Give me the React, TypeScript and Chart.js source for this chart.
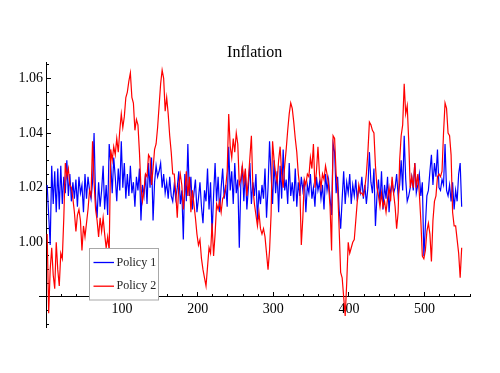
import React, { useEffect, useRef } from "react";
import { Chart, registerables } from "chart.js";

Chart.register(...registerables);

const TITLE = "Inflation";
const SERIES_LABELS = ["Policy 1", "Policy 2"];
const SERIES_COLORS = ["#0000ff", "#ff0000"];

// periods start at 1, one value every 2 periods
const PERIOD_START = 1;
const PERIOD_STEP = 2;

const policy1: number[] = [
  1.021, 1.010, 0.999, 1.028, 1.014, 1.026, 1.011, 1.027, 1.012, 1.028,
  1.014, 1.024, 1.018, 1.030, 1.017, 1.025, 1.015, 1.022, 1.016, 1.023,
  1.013, 1.024, 1.018, 1.021, 1.011, 1.025, 1.016, 1.024, 1.019, 1.016,
  1.022, 1.040, 1.016, 1.009, 1.022, 1.013, 1.019, 1.028, 1.012, 1.021,
  1.010, 1.036, 1.029, 1.018, 1.031, 1.024, 1.015, 1.027, 1.019, 1.037,
  1.020, 1.029, 1.016, 1.025, 1.017, 1.028, 1.018, 1.022, 1.013, 1.024,
  1.019, 1.027, 1.008, 1.021, 1.017, 1.025, 1.014, 1.029, 1.020, 1.031,
  1.008, 1.022, 1.028, 1.024, 1.026, 1.029, 1.020, 1.025, 1.018, 1.022,
  1.016, 1.024, 1.017, 1.015, 1.021, 1.016, 1.020, 1.026, 1.014, 1.019,
  1.001, 1.025, 1.015, 1.036, 1.017, 1.024, 1.012, 1.018, 1.023, 1.011,
  1.016, 1.022, 1.013, 1.007, 1.019, 1.015, 1.027, 1.012, 1.022, 1.003,
  1.017, 1.029, 1.015, 1.024, 1.011, 1.020, 1.027, 1.016, 1.021, 1.013,
  1.035, 1.019, 1.026, 1.014, 1.029, 1.018, 1.023, 0.998, 1.021, 1.028,
  1.015, 1.026, 1.012, 1.020, 1.029, 1.014, 1.022, 1.017, 1.025, 1.008,
  1.019, 1.014, 1.021, 1.016, 1.027, 1.009, 1.020, 1.037, 1.025, 1.014,
  1.030, 1.018, 1.026, 1.011, 1.028, 1.016, 1.034, 1.019, 1.023, 1.014,
  1.029, 1.017, 1.022, 1.015, 1.027, 1.013, 1.022, 1.017, 1.024, 1.019,
  1.023, 1.011, 1.021, 1.018, 1.025, 1.016, 1.020, 1.013, 1.024, 1.019,
  1.022, 1.016, 1.021, 1.012, 1.025, 1.019, 1.023, 1.016, 1.010, 1.036,
  1.033, 1.018, 1.024, 1.012, 1.005, 1.016, 1.026, 1.014, 1.022, 1.018,
  1.025, 1.014, 1.021, 1.017, 1.023, 1.015, 1.020, 1.018, 1.024, 1.016,
  1.021, 1.014, 1.020, 1.033, 1.022, 1.018, 1.027, 1.006, 1.017, 1.023,
  1.014, 1.026, 1.012, 1.021, 1.016, 1.024, 1.011, 1.019, 1.022, 1.018,
  1.020, 1.025, 1.017, 1.021, 1.030, 1.019, 1.039, 1.023, 1.015, 1.017,
  1.020, 1.024, 1.019, 1.029, 1.018, 1.021, 1.025, 1.017, 1.022, 0.995,
  1.006, 1.017, 1.019, 1.026, 1.032, 1.021, 1.029, 1.024, 1.034, 1.020,
  1.019, 1.023, 1.021, 1.036, 1.019, 1.017, 1.021, 1.015, 1.022, 1.012,
  1.019, 1.015, 1.025, 1.029, 1.013,
];

const policy2: number[] = [
  1.003, 0.974, 0.990, 0.998, 0.988, 0.983, 1.000, 0.990, 0.984, 0.996,
  0.994, 1.009, 1.029, 1.024, 1.027, 1.021, 1.020, 1.016, 1.011, 1.004,
  1.010, 1.012, 1.008, 0.997, 1.006, 1.002, 1.007, 1.012, 1.019, 1.017,
  1.037, 1.022, 1.012, 1.008, 1.002, 1.009, 1.004, 1.009, 1.003, 0.998,
  1.002, 0.997, 1.034, 1.030, 1.035, 1.032, 1.038, 1.033, 1.041, 1.047,
  1.042, 1.046, 1.053, 1.055, 1.059, 1.062, 1.053, 1.051, 1.041, 1.045,
  1.043, 1.033, 1.020, 1.015, 1.019, 1.025, 1.024, 1.032, 1.031, 1.021,
  1.027, 1.034, 1.036, 1.042, 1.050, 1.058, 1.063, 1.060, 1.048, 1.053,
  1.047, 1.039, 1.033, 1.025, 1.025, 1.018, 1.009, 1.021, 1.025, 1.021,
  1.012, 1.019, 1.026, 1.017, 1.024, 1.011, 1.019, 1.014, 1.009, 1.003,
  0.999, 1.001, 0.994, 0.990, 0.987, 0.984, 0.991, 0.998, 0.996, 1.007,
  0.995, 1.003, 1.014, 1.012, 1.015, 1.011, 1.016, 1.017, 1.020, 1.026,
  1.047, 1.035, 1.031, 1.038, 1.033, 1.040, 1.036, 1.021, 1.023, 1.028,
  1.022, 1.027, 1.017, 1.023, 1.031, 1.039, 1.020, 1.014, 1.010, 1.006,
  1.011, 1.005, 1.003, 1.005, 1.002, 0.996, 0.990, 0.997, 1.010, 1.037,
  1.030, 1.025, 1.022, 1.030, 1.035, 1.025, 1.020, 1.028, 1.034, 1.041,
  1.047, 1.051, 1.049, 1.044, 1.038, 1.033, 1.025, 1.020, 0.999, 1.009,
  1.023, 1.021, 1.025, 1.024, 1.031, 1.027, 1.036, 1.020, 1.026, 1.035,
  1.025, 1.020, 1.025, 1.023, 1.028, 1.025, 1.021, 1.013, 0.997, 1.039,
  1.038, 1.025, 1.020, 1.005, 0.989, 0.987, 0.980, 0.973, 0.985, 1.000,
  0.996, 0.998, 1.000, 1.001, 1.008, 1.015, 1.021, 1.018, 1.018, 1.017,
  1.020, 1.025, 1.033, 1.044, 1.043, 1.041, 1.040, 1.028, 1.020, 1.017,
  1.013, 1.018, 1.013, 1.015, 1.011, 1.016, 1.020, 1.015, 1.024, 1.018,
  1.013, 1.005, 1.011, 1.030, 1.039, 1.043, 1.058, 1.047, 1.050, 1.037,
  1.020, 1.024, 1.020, 1.029, 1.020, 1.025, 1.018, 1.008, 0.995, 0.994,
  0.997, 1.004, 1.007, 1.003, 0.993, 1.008, 1.015, 1.017, 1.024, 1.025,
  1.024, 1.026, 1.040, 1.051, 1.049, 1.040, 1.039, 1.032, 1.011, 1.006,
  1.006, 1.001, 0.996, 0.987, 0.998,
];

// axis ranges and ticks
const X_MIN = -9.4;
const X_MAX = 560;
const Y_MIN = 0.969;
const Y_MAX = 1.066;
const AXIS_CROSS_Y = 0.98;
const AXIS_CROSS_X = 0;
const X_MAJOR_STEP = 100;
const X_MINOR_STEP = 20;
const Y_MAJOR_STEP = 0.02;
const Y_MINOR_STEP = 0.005;

const FONT = "'Liberation Serif', 'Times New Roman', serif";

const legendPlugin = {
  id: "boxLegend",
  afterDatasetsDraw(chart: any) {
    const { ctx } = chart;
    const x0 = 89.5, y0 = 248.5, w = 69, h = 51.5;
    ctx.save();
    ctx.fillStyle = "#ffffff";
    ctx.fillRect(x0, y0, w, h);
    ctx.strokeStyle = "#a8a8a8";
    ctx.lineWidth = 1;
    ctx.strokeRect(x0, y0, w, h);
    ctx.font = `12px ${FONT}`;
    ctx.textBaseline = "middle";
    ctx.textAlign = "left";
    chart.data.datasets.forEach((ds: any, i: number) => {
      const yy = 262.5 + i * 23.7;
      ctx.strokeStyle = ds.borderColor;
      ctx.lineWidth = 1.3;
      ctx.beginPath();
      ctx.moveTo(93.5, yy);
      ctx.lineTo(114, yy);
      ctx.stroke();
      ctx.fillStyle = "#222";
      ctx.fillText(ds.label, 116.5, yy);
    });
    ctx.restore();
  },
};

export default function App() {
  const ref = useRef<HTMLCanvasElement | null>(null);

  useEffect(() => {
    if (!ref.current) return;
    const toPoints = (vals: number[]) =>
      vals.map((v, i) => ({ x: PERIOD_START + i * PERIOD_STEP, y: v }));

    const tickFont = { family: FONT, size: 14 };
    const chart = new Chart(ref.current, {
      type: "line",
      data: {
        datasets: [
          {
            label: SERIES_LABELS[0],
            data: toPoints(policy1),
            borderColor: SERIES_COLORS[0],
            borderWidth: 1.2,
            pointRadius: 0,
            tension: 0,
            order: 2,
          },
          {
            label: SERIES_LABELS[1],
            data: toPoints(policy2),
            borderColor: SERIES_COLORS[1],
            borderWidth: 1.2,
            pointRadius: 0,
            tension: 0,
            order: 1,
          },
        ],
      },
      options: {
        animation: false,
        responsive: false,
        devicePixelRatio: 1,
        layout: { padding: { left: 39.3, right: 30, top: 41.8, bottom: 46 } },
        plugins: {
          legend: { display: false },
          tooltip: { enabled: false },
          title: {
            display: true,
            text: TITLE,
            fullSize: false,
            color: "#000",
            font: { family: FONT, size: 16, weight: "normal" },
            padding: { top: 1.8, bottom: -0.8 },
          },
        },
        scales: {
          x: {
            type: "linear",
            axis: "x",
            min: X_MIN,
            max: X_MAX,
            position: { y: AXIS_CROSS_Y },
            border: { display: true, color: "#000", width: 1 },
            grid: { display: true, drawOnChartArea: false, drawTicks: true, tickLength: -5, color: "#000", lineWidth: 1 },
            ticks: {
              stepSize: X_MAJOR_STEP,
              includeBounds: false,
              autoSkip: false,
              maxRotation: 0,
              color: "#000",
              font: tickFont,
              padding: 9,
              callback: (v: any) => (Number(v) === 0 ? "" : String(v)),
            },
          },
          xMinor: {
            type: "linear",
            axis: "x",
            min: X_MIN,
            max: X_MAX,
            position: { y: AXIS_CROSS_Y },
            border: { display: false },
            grid: { display: true, drawOnChartArea: false, drawTicks: true, tickLength: -3, color: "#000", lineWidth: 1 },
            ticks: { stepSize: X_MINOR_STEP, includeBounds: false, autoSkip: false, maxRotation: 0, callback: () => "" },
          },
          y: {
            type: "linear",
            axis: "y",
            min: Y_MIN,
            max: Y_MAX,
            position: { x: AXIS_CROSS_X },
            border: { display: true, color: "#000", width: 1 },
            grid: { display: true, drawOnChartArea: false, drawTicks: true, tickLength: -5, color: "#000", lineWidth: 1 },
            ticks: {
              stepSize: Y_MAJOR_STEP,
              includeBounds: false,
              autoSkip: false,
              color: "#000",
              font: tickFont,
              padding: 3,
              callback: (v: any) => (Number(v) < 0.99 ? "" : Number(v).toFixed(2) + " "),
            },
          },
          yMinor: {
            type: "linear",
            axis: "y",
            min: Y_MIN,
            max: Y_MAX,
            position: { x: AXIS_CROSS_X },
            border: { display: false },
            grid: { display: true, drawOnChartArea: false, drawTicks: true, tickLength: -3, color: "#000", lineWidth: 1 },
            ticks: { stepSize: Y_MINOR_STEP, includeBounds: false, autoSkip: false, callback: () => "" },
          },
        },
      } as any,
      plugins: [legendPlugin],
    });
    return () => chart.destroy();
  }, []);

  return (
    <div style={{ position: "fixed", left: 0, top: 0, width: 500, height: 373, background: "#fff" }}>
      <canvas ref={ref} width={500} height={373} style={{ display: "block" }} />
    </div>
  );
}
